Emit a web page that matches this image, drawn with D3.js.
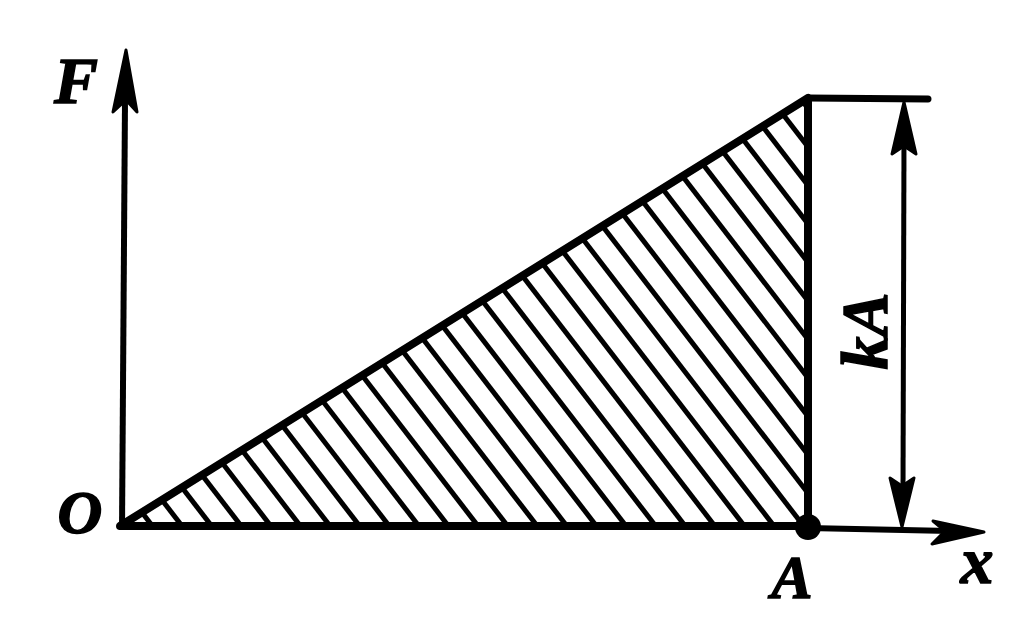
<!DOCTYPE html>
<html><head><meta charset="utf-8">
<script src="https://cdn.jsdelivr.net/npm/d3@7"></script>
<style>body{margin:0;background:#fff}svg{display:block}</style>
</head><body>
<script>
// Data: linear force F = k x from 0 to A
const xValues = [0, 1];          // displacement (0 .. A)
const forceValues = [0, 1];      // force (0 .. kA)
const axisLabels = { y: "F", x: "x", origin: "O", end: "A", height: "kA" };

const W = 1023, H = 630;
const svg = d3.select("body").append("svg").attr("width", W).attr("height", H);

const x = d3.scaleLinear().domain([0, 1]).range([120, 808]);
const y = d3.scaleLinear().domain([0, 1]).range([526, 98]);

const pts = xValues.map((v, i) => [x(v), y(forceValues[i])]);
const tri = [pts[0], pts[1], [x(1), y(0)]];

// clip for hatching
svg.append("defs").append("clipPath").attr("id", "triClip")
  .append("path").attr("d", d3.line()(tri) + "Z");

// hatching lines (slope ~1.3, spacing ~29.6 px along base)
const hatch = svg.append("g").attr("clip-path", "url(#triClip)");
const slope = 1.3;
for (let k = -13; k <= 23; k++) {
  const xb = 478 + 29.6 * k;
  hatch.append("line")
    .attr("x1", xb - 500).attr("y1", y(0) - 500 * slope)
    .attr("x2", xb + 60).attr("y2", y(0) + 60 * slope)
    .attr("stroke", "#000").attr("stroke-width", 5);
}

// triangle outline
svg.append("path").attr("d", d3.line()(tri) + "Z")
  .attr("fill", "none").attr("stroke", "#000").attr("stroke-width", 8)
  .attr("stroke-linejoin", "round");

// y axis
svg.append("line").attr("x1", 122).attr("y1", 530).attr("x2", 125).attr("y2", 100)
  .attr("stroke", "#000").attr("stroke-width", 6);
svg.append("path").attr("d", "M126,50 L137,112 L126,100 L113,112 Z").attr("fill", "#000")
  .attr("stroke", "#000").attr("stroke-width", 3).attr("stroke-linejoin", "round");

// x axis beyond A
svg.append("line").attr("x1", x(1)).attr("y1", 528).attr("x2", 950).attr("y2", 531)
  .attr("stroke", "#000").attr("stroke-width", 6);
svg.append("path").attr("d", "M984,532 L933,521 L945,531 L932,544 Z").attr("fill", "#000")
  .attr("stroke", "#000").attr("stroke-width", 3).attr("stroke-linejoin", "round");

// top extension line
svg.append("line").attr("x1", x(1)).attr("y1", y(1)).attr("x2", 928).attr("y2", y(1) + 1)
  .attr("stroke", "#000").attr("stroke-width", 7).attr("stroke-linecap", "round");

// kA dimension line
const dx = 904;
svg.append("line").attr("x1", dx).attr("y1", 140).attr("x2", dx - 1).attr("y2", 490)
  .attr("stroke", "#000").attr("stroke-width", 5);
svg.append("path").attr("d", `M${dx},102 L${dx+12},154 L${dx},146 L${dx-12},154 Z`).attr("fill", "#000")
  .attr("stroke", "#000").attr("stroke-width", 3).attr("stroke-linejoin", "round");
svg.append("path").attr("d", `M${dx-2},527 L${dx+10},478 L${dx-2},486 L${dx-14},478 Z`).attr("fill", "#000")
  .attr("stroke", "#000").attr("stroke-width", 3).attr("stroke-linejoin", "round");

// point A
svg.append("circle").attr("cx", x(1)).attr("cy", 527).attr("r", 13).attr("fill", "#000");

// labels
const font = "'Liberation Serif', 'DejaVu Serif', serif";
function label(t, px, py, size, rot) {
  const s = svg.append("text").text(t).attr("x", px).attr("y", py)
    .attr("font-family", font).attr("font-style", "italic").attr("font-weight", "bold")
    .attr("font-size", size).attr("text-anchor", "middle").attr("fill", "#000")
    .attr("stroke", "#000").attr("stroke-width", 1.5);
  if (rot) s.attr("transform", `rotate(${rot},${px},${py})`);
  return s;
}
label(axisLabels.y, 76, 103, 66);
label(axisLabels.origin, 80, 533, 62);
label(axisLabels.end, 792, 598, 62);
label(axisLabels.x, 977, 583, 66);
label(axisLabels.height, 887, 331, 66, -90);
</script>
</body></html>
